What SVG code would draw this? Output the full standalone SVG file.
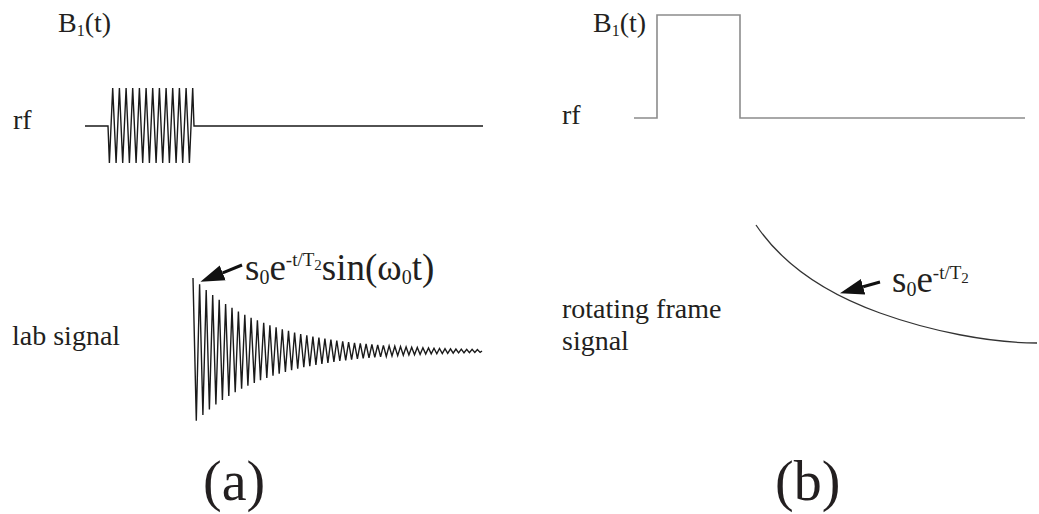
<svg xmlns="http://www.w3.org/2000/svg" width="1039" height="514" viewBox="0 0 1039 514">
<defs>
<style>
text{font-family:"Liberation Serif","Times New Roman",serif;fill:#231f20}
.lbl{font-size:28px}
.eq{font-size:37px}
.big{font-size:56px}
.wave{fill:none;stroke:#1a1a1a;stroke-width:1.4;stroke-linejoin:miter}
.gray{fill:none;stroke:#8c8c8c;stroke-width:1.6}
.curve{fill:none;stroke:#333;stroke-width:1.3}
.arr{stroke:#111;stroke-width:3;fill:none;marker-end:url(#ah)}
</style>
<marker id="ah" markerUnits="userSpaceOnUse" markerWidth="26" markerHeight="18" viewBox="0 -9 26 18" refX="0" refY="0" orient="auto">
<path d="M0,-8 L24,0 L0,8 z" fill="#111"/>
</marker>
</defs>
<g id="panel-a-labels">
<text class="lbl" x="58" y="32">B<tspan font-size="16" dy="4">1</tspan><tspan dy="-4">(t)</tspan></text>
<text class="lbl" x="13" y="129">rf</text>
<text class="lbl" x="12" y="345">lab signal</text>
<text class="big" x="203" y="500">(a)</text>
</g>
<g id="rf-pulse-a">
<path class="wave" d="M85,126 H108 L109.4,163 L112.7,88 L116.1,163 L119.4,88 L122.7,163 L126.1,88 L129.4,163 L132.7,88 L136.1,163 L139.4,88 L142.7,163 L146.1,88 L149.4,163 L152.7,88 L156.1,163 L159.4,88 L162.7,163 L166.1,88 L169.4,163 L172.7,88 L176.1,163 L179.4,88 L182.7,163 L186.1,88 L189.4,163 L192.7,88 L194,126 H483"/>
</g>
<g id="lab-signal">
<polyline class="wave" points="193,278 196.3,420.8 199.6,284.2 202.9,414.9 206.2,289.9 209.4,409.5 212.7,295.1 215.9,404.6 219.2,299.8 222.4,400.1 225.6,304 228.8,396 232,307.9 235.2,392.3 238.4,311.5 241.6,388.8 244.8,314.8 247.9,385.8 251.1,317.7 254.3,382.9 257.4,320.4 260.5,380.3 263.7,322.9 266.8,377.9 269.9,325.2 273,375.8 276.1,327.3 279.2,373.8 282.3,329.2 285.4,371.9 288.5,330.9 291.6,370.3 294.6,332.5 297.7,368.7 300.7,334 303.8,367.3 306.8,335.3 309.8,366.1 312.9,336.6 315.9,364.9 318.9,337.7 321.9,363.8 324.9,338.7 327.9,362.8 330.9,339.7 333.9,361.9 336.8,340.5 339.8,361 342.7,341.3 345.7,360.3 348.6,342.1 351.6,359.6 354.5,342.8 357.4,358.9 360.3,343.4 363.2,358.3 366.1,344 369,357.8 371.9,344.5 374.8,357.3 377.7,345 380.6,356.8 383.4,345.4 386.3,356.4 389.1,345.8 392,356 394.8,346.2 397.7,355.6 400.5,346.6 403.3,355.3 406.1,346.9 408.9,354.9 411.7,347.2 414.5,354.7 417.3,347.5 420.1,354.4 422.9,347.7 425.7,354.1 428.5,348 431.2,353.9 434,348.2 436.8,353.7 439.5,348.4 442.3,353.5 445,348.6 447.7,353.3 450.5,348.8 453.2,353.1 455.9,349 458.6,352.9 461.3,349.1 464,352.8 466.7,349.3 469.4,352.7 472.1,349.4 474.8,352.5 477.4,349.5 480.1,352.4 482,351"/>
</g>
<g id="eq-a">
<text class="eq" x="245" y="280">s<tspan font-size="20" dy="4">0</tspan><tspan dy="-4">e</tspan><tspan font-size="19" dy="-14">-t/T</tspan><tspan font-size="15" dy="4">2</tspan><tspan dy="10">sin(ω</tspan><tspan font-size="20" dy="4">0</tspan><tspan dy="-4">t)</tspan></text>
</g>
<g id="panel-b-labels">
<text class="lbl" x="593" y="32">B<tspan font-size="16" dy="4">1</tspan><tspan dy="-4">(t)</tspan></text>
<text class="lbl" x="562" y="124">rf</text>
<text class="lbl" x="562" y="318">rotating frame</text>
<text class="lbl" x="562" y="350">signal</text>
<text class="big" x="775" y="500">(b)</text>
</g>
<g id="rf-pulse-b">
<path class="gray" d="M634,118 H657 V15 H740 V118 H1025"/>
</g>
<g id="rotating-signal">
<path class="curve" d="M756,225 C785,268 830,295 880,313 C930,331 990,343 1037,343"/>
</g>
<g id="eq-b">
<text class="eq" x="892" y="292">s<tspan font-size="20" dy="4">0</tspan><tspan dy="-4">e</tspan><tspan font-size="19" dy="-13">-t/T</tspan><tspan font-size="15" dy="4">2</tspan></text>
</g>
<g id="connectors">
<line class="arr" x1="242" y1="265" x2="222.7" y2="272.8"/>
<line class="arr" x1="880" y1="282" x2="863.1" y2="286.7"/>
</g>
</svg>
